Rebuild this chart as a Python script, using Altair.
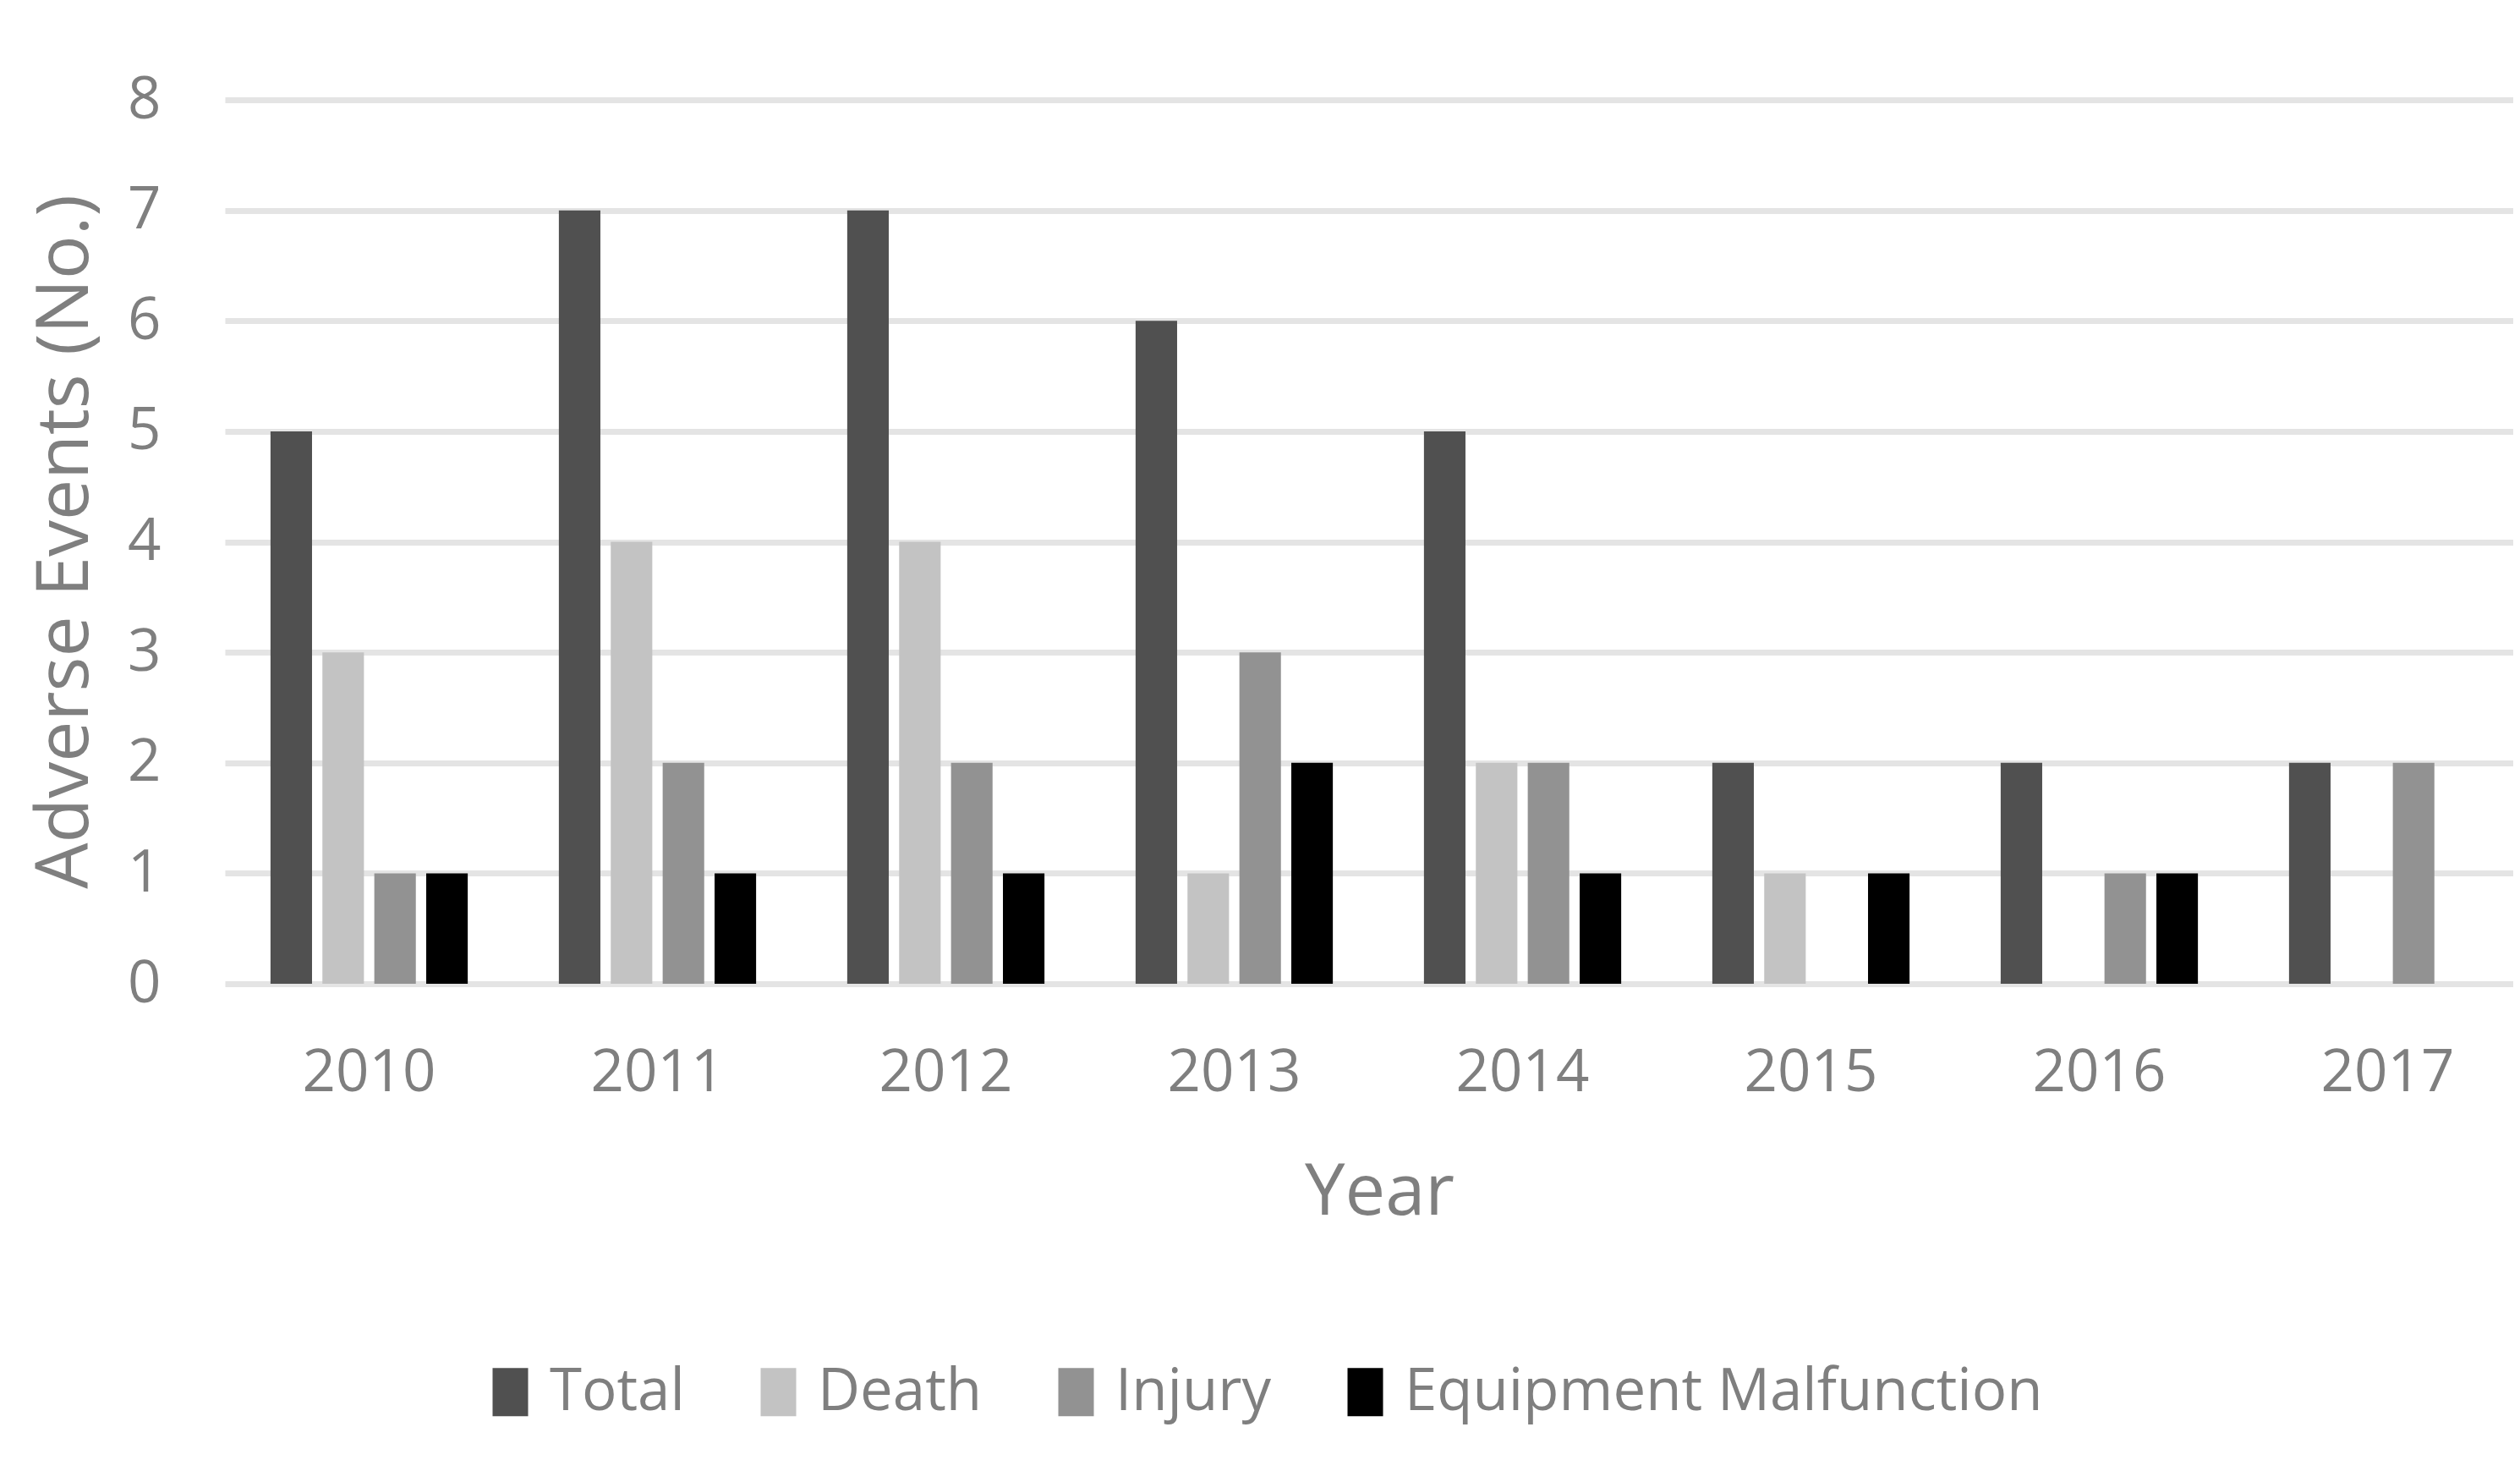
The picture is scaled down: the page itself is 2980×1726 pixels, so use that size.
import altair as alt
import pandas as pd

years = ["2010", "2011", "2012", "2013", "2014", "2015", "2016", "2017"]
series = ["Total", "Death", "Injury", "Equipment Malfunction"]
total = [5, 7, 7, 6, 5, 2, 2, 2]
death = [3, 4, 4, 1, 2, 1, 0, 0]
injury = [1, 2, 2, 3, 2, 0, 1, 2]
equipment = [1, 1, 1, 2, 1, 1, 1, 0]
colors = ["#505050", "#c3c3c3", "#929292", "#000000"]

rows = []
for i, yr in enumerate(years):
    for s, vals in zip(series, [total, death, injury, equipment]):
        rows.append({"Year": yr, "Series": s, "Count": vals[i]})
df = pd.DataFrame(rows)

FONT = "Open Sans"
TXT = "#7f7f7f"

chart = alt.Chart(df).mark_bar().encode(
    x=alt.X("Year:N", sort=years,
            scale=alt.Scale(paddingInner=0.28, paddingOuter=0.14, range=[0, 2728]),
            axis=alt.Axis(title="Year", labelAngle=0, ticks=False, domain=False, grid=False,
                          labelPadding=71, labelFontSize=69, labelColor=TXT, labelFont=FONT,
                          titleFontSize=85, titleColor=TXT, titleFont=FONT, titleFontWeight="normal",
                          titleX=1365, titleY=272, titleBaseline="alphabetic")),
    xOffset=alt.XOffset("Series:N", sort=series,
                        scale=alt.Scale(domain=series, paddingInner=0.2, paddingOuter=0.1)),
    y=alt.Y("Count:Q", scale=alt.Scale(domain=[0, 8]),
            axis=alt.Axis(title="Adverse Events (No.)", values=list(range(9)), ticks=False, domain=False,
                          grid=True, gridColor="#e4e4e4", gridWidth=7,
                          labelPadding=76, labelFontSize=69, labelColor=TXT, labelFont=FONT,
                          titleFontSize=86, titleColor=TXT, titleFont=FONT, titleFontWeight="normal",
                          titleX=-163, titleY=522, titleBaseline="alphabetic")),
    color=alt.Color("Series:N", sort=series,
                    scale=alt.Scale(domain=series, range=colors),
                    legend=alt.Legend(title=None, orient="none", legendX=303, legendY=1493,
                                      direction="horizontal",
                                      symbolType="M-0.737,-1H0.737V1H-0.737Z",
                                      symbolSize=3249, symbolStrokeWidth=0, symbolOpacity=1,
                                      labelFontSize=69, labelColor=TXT, labelFont=FONT,
                                      labelOffset=12, columnPadding=76, labelLimit=2000)),
).properties(
    width=2706, height=1045,
    autosize=alt.AutoSizeParams(type="none"),
    padding={"left": 258, "top": 110, "right": 0, "bottom": 540},
    background="white",
).configure_view(stroke=None)

chart.save("out.html", embed_options={"renderer": "svg", "actions": False})
